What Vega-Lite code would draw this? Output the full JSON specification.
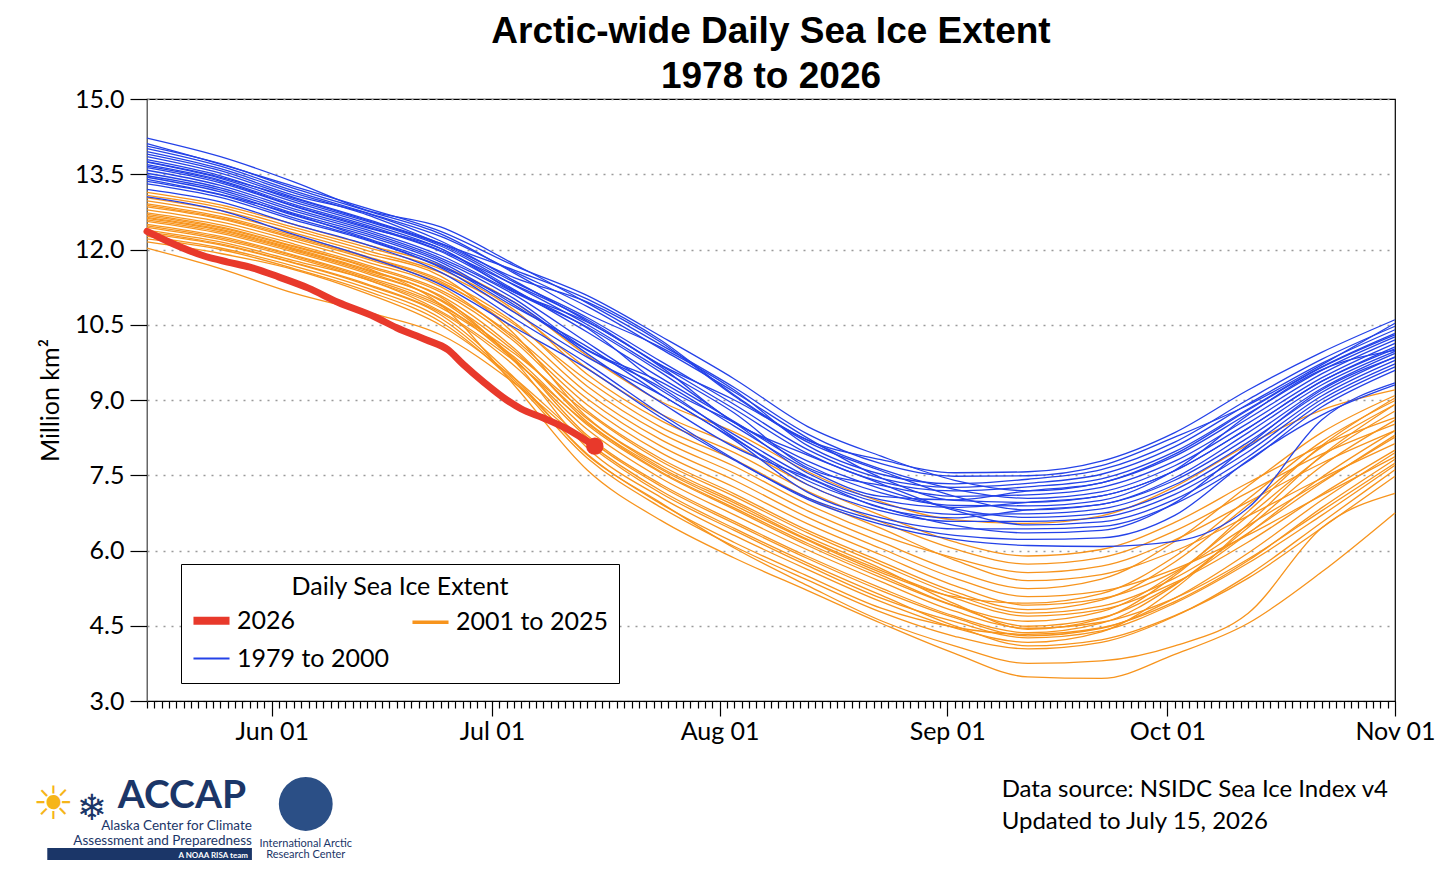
{
  "$schema": "https://vega.github.io/schema/vega-lite/v6.json",
  "width": 1248,
  "height": 602,
  "autosize": {"type": "none"},
  "padding": {"left": 147, "top": 99, "right": 61, "bottom": 173},
  "background": "white",
  "title": {
    "text": ["Arctic-wide Daily Sea Ice Extent", "1978 to 2026"],
    "font": "Liberation Sans",
    "fontSize": 37,
    "fontWeight": "bold",
    "lineHeight": 45,
    "anchor": "middle",
    "frame": "group",
    "offset": -9,
    "color": "black"
  },
  "datasets": {
    "yrs": [
      {"y": 1979, "grp": "1979 to 2000"}, {"y": 1980, "grp": "1979 to 2000"}, {"y": 1981, "grp": "1979 to 2000"},
      {"y": 1982, "grp": "1979 to 2000"}, {"y": 1983, "grp": "1979 to 2000"}, {"y": 1984, "grp": "1979 to 2000"},
      {"y": 1985, "grp": "1979 to 2000"}, {"y": 1986, "grp": "1979 to 2000"}, {"y": 1987, "grp": "1979 to 2000"},
      {"y": 1988, "grp": "1979 to 2000"}, {"y": 1989, "grp": "1979 to 2000"}, {"y": 1990, "grp": "1979 to 2000"},
      {"y": 1991, "grp": "1979 to 2000"}, {"y": 1992, "grp": "1979 to 2000"}, {"y": 1993, "grp": "1979 to 2000"},
      {"y": 1994, "grp": "1979 to 2000"}, {"y": 1995, "grp": "1979 to 2000"}, {"y": 1996, "grp": "1979 to 2000"},
      {"y": 1997, "grp": "1979 to 2000"}, {"y": 1998, "grp": "1979 to 2000"}, {"y": 1999, "grp": "1979 to 2000"},
      {"y": 2000, "grp": "1979 to 2000"},
      {"y": 2001, "grp": "2001 to 2025"}, {"y": 2002, "grp": "2001 to 2025"}, {"y": 2003, "grp": "2001 to 2025"},
      {"y": 2004, "grp": "2001 to 2025"}, {"y": 2005, "grp": "2001 to 2025"}, {"y": 2006, "grp": "2001 to 2025"},
      {"y": 2007, "grp": "2001 to 2025"}, {"y": 2008, "grp": "2001 to 2025"}, {"y": 2009, "grp": "2001 to 2025"},
      {"y": 2010, "grp": "2001 to 2025"}, {"y": 2011, "grp": "2001 to 2025"}, {"y": 2012, "grp": "2001 to 2025"},
      {"y": 2013, "grp": "2001 to 2025"}, {"y": 2014, "grp": "2001 to 2025"}, {"y": 2015, "grp": "2001 to 2025"},
      {"y": 2016, "grp": "2001 to 2025"}, {"y": 2017, "grp": "2001 to 2025"}, {"y": 2018, "grp": "2001 to 2025"},
      {"y": 2019, "grp": "2001 to 2025"}, {"y": 2020, "grp": "2001 to 2025"}, {"y": 2021, "grp": "2001 to 2025"},
      {"y": 2022, "grp": "2001 to 2025"}, {"y": 2023, "grp": "2001 to 2025"}, {"y": 2024, "grp": "2001 to 2025"},
      {"y": 2025, "grp": "2001 to 2025"},
      {"y": 2026, "grp": "2026"}
    ]
  },
  "data": {
    "format": {"parse": {"d": "utc:'%m-%d'"}},
    "values": [
      {"d":"05-15","y":1979,"v":14.22},{"d":"05-25","y":1979,"v":13.85},{"d":"06-04","y":1979,"v":13.35},{"d":"06-14","y":1979,"v":12.78},{"d":"06-24","y":1979,"v":12.45},{"d":"07-04","y":1979,"v":11.71},{"d":"07-14","y":1979,"v":10.93},{"d":"07-24","y":1979,"v":10.10},{"d":"08-03","y":1979,"v":9.25},{"d":"08-13","y":1979,"v":8.32},{"d":"08-23","y":1979,"v":7.73},{"d":"09-02","y":1979,"v":7.48},{"d":"09-12","y":1979,"v":7.49},{"d":"09-22","y":1979,"v":7.69},{"d":"10-02","y":1979,"v":8.26},{"d":"10-12","y":1979,"v":8.90},{"d":"10-22","y":1979,"v":9.70},{"d":"11-01","y":1979,"v":10.53},
      {"d":"05-15","y":1980,"v":14.11},{"d":"05-25","y":1980,"v":13.70},{"d":"06-04","y":1980,"v":13.26},{"d":"06-14","y":1980,"v":12.82},{"d":"06-24","y":1980,"v":12.36},{"d":"07-04","y":1980,"v":11.68},{"d":"07-14","y":1980,"v":11.08},{"d":"07-24","y":1980,"v":10.27},{"d":"08-03","y":1980,"v":9.42},{"d":"08-13","y":1980,"v":8.47},{"d":"08-23","y":1980,"v":7.88},{"d":"09-02","y":1980,"v":7.40},{"d":"09-12","y":1980,"v":7.19},{"d":"09-22","y":1980,"v":7.35},{"d":"10-02","y":1980,"v":7.88},{"d":"10-12","y":1980,"v":8.73},{"d":"10-22","y":1980,"v":9.59},{"d":"11-01","y":1980,"v":10.26},
      {"d":"05-15","y":1981,"v":14.06},{"d":"05-25","y":1981,"v":13.71},{"d":"06-04","y":1981,"v":13.22},{"d":"06-14","y":1981,"v":12.77},{"d":"06-24","y":1981,"v":12.31},{"d":"07-04","y":1981,"v":11.53},{"d":"07-14","y":1981,"v":10.72},{"d":"07-24","y":1981,"v":10.05},{"d":"08-03","y":1981,"v":9.20},{"d":"08-13","y":1981,"v":8.09},{"d":"08-23","y":1981,"v":7.52},{"d":"09-02","y":1981,"v":7.33},{"d":"09-12","y":1981,"v":7.42},{"d":"09-22","y":1981,"v":7.61},{"d":"10-02","y":1981,"v":8.16},{"d":"10-12","y":1981,"v":9.01},{"d":"10-22","y":1981,"v":9.81},{"d":"11-01","y":1981,"v":10.47},
      {"d":"05-15","y":1982,"v":14.01},{"d":"05-25","y":1982,"v":13.66},{"d":"06-04","y":1982,"v":13.17},{"d":"06-14","y":1982,"v":12.73},{"d":"06-24","y":1982,"v":12.26},{"d":"07-04","y":1982,"v":11.56},{"d":"07-14","y":1982,"v":10.86},{"d":"07-24","y":1982,"v":10.02},{"d":"08-03","y":1982,"v":9.16},{"d":"08-13","y":1982,"v":8.24},{"d":"08-23","y":1982,"v":7.45},{"d":"09-02","y":1982,"v":7.00},{"d":"09-12","y":1982,"v":6.96},{"d":"09-22","y":1982,"v":7.09},{"d":"10-02","y":1982,"v":7.59},{"d":"10-12","y":1982,"v":8.44},{"d":"10-22","y":1982,"v":9.37},{"d":"11-01","y":1982,"v":10.06},
      {"d":"05-15","y":1983,"v":13.95},{"d":"05-25","y":1983,"v":13.61},{"d":"06-04","y":1983,"v":13.13},{"d":"06-14","y":1983,"v":12.69},{"d":"06-24","y":1983,"v":12.12},{"d":"07-04","y":1983,"v":11.59},{"d":"07-14","y":1983,"v":11.01},{"d":"07-24","y":1983,"v":10.19},{"d":"08-03","y":1983,"v":9.10},{"d":"08-13","y":1983,"v":8.20},{"d":"08-23","y":1983,"v":7.81},{"d":"09-02","y":1983,"v":7.55},{"d":"09-12","y":1983,"v":7.57},{"d":"09-22","y":1983,"v":7.78},{"d":"10-02","y":1983,"v":8.35},{"d":"10-12","y":1983,"v":9.20},{"d":"10-22","y":1983,"v":9.95},{"d":"11-01","y":1983,"v":10.60},
      {"d":"05-15","y":1984,"v":13.90},{"d":"05-25","y":1984,"v":13.57},{"d":"06-04","y":1984,"v":13.08},{"d":"06-14","y":1984,"v":12.72},{"d":"06-24","y":1984,"v":12.17},{"d":"07-04","y":1984,"v":11.38},{"d":"07-14","y":1984,"v":10.57},{"d":"07-24","y":1984,"v":9.69},{"d":"08-03","y":1984,"v":8.82},{"d":"08-13","y":1984,"v":7.93},{"d":"08-23","y":1984,"v":7.37},{"d":"09-02","y":1984,"v":7.19},{"d":"09-12","y":1984,"v":7.27},{"d":"09-22","y":1984,"v":7.43},{"d":"10-02","y":1984,"v":7.97},{"d":"10-12","y":1984,"v":8.82},{"d":"10-22","y":1984,"v":9.66},{"d":"11-01","y":1984,"v":10.33},
      {"d":"05-15","y":1985,"v":13.85},{"d":"05-25","y":1985,"v":13.52},{"d":"06-04","y":1985,"v":13.04},{"d":"06-14","y":1985,"v":12.60},{"d":"06-24","y":1985,"v":12.12},{"d":"07-04","y":1985,"v":11.44},{"d":"07-14","y":1985,"v":10.95},{"d":"07-24","y":1985,"v":10.15},{"d":"08-03","y":1985,"v":9.08},{"d":"08-13","y":1985,"v":8.16},{"d":"08-23","y":1985,"v":7.59},{"d":"09-02","y":1985,"v":7.08},{"d":"09-12","y":1985,"v":6.81},{"d":"09-22","y":1985,"v":6.92},{"d":"10-02","y":1985,"v":7.40},{"d":"10-12","y":1985,"v":8.25},{"d":"10-22","y":1985,"v":9.23},{"d":"11-01","y":1985,"v":9.93},
      {"d":"05-15","y":1986,"v":13.79},{"d":"05-25","y":1986,"v":13.47},{"d":"06-04","y":1986,"v":12.99},{"d":"06-14","y":1986,"v":12.56},{"d":"06-24","y":1986,"v":12.07},{"d":"07-04","y":1986,"v":11.29},{"d":"07-14","y":1986,"v":10.50},{"d":"07-24","y":1986,"v":9.61},{"d":"08-03","y":1986,"v":8.74},{"d":"08-13","y":1986,"v":7.65},{"d":"08-23","y":1986,"v":7.30},{"d":"09-02","y":1986,"v":7.08},{"d":"09-12","y":1986,"v":7.11},{"d":"09-22","y":1986,"v":7.26},{"d":"10-02","y":1986,"v":7.78},{"d":"10-12","y":1986,"v":8.63},{"d":"10-22","y":1986,"v":9.52},{"d":"11-01","y":1986,"v":10.20},
      {"d":"05-15","y":1987,"v":13.75},{"d":"05-25","y":1987,"v":13.44},{"d":"06-04","y":1987,"v":13.02},{"d":"06-14","y":1987,"v":12.58},{"d":"06-24","y":1987,"v":12.10},{"d":"07-04","y":1987,"v":11.35},{"d":"07-14","y":1987,"v":10.64},{"d":"07-24","y":1987,"v":9.77},{"d":"08-03","y":1987,"v":8.91},{"d":"08-13","y":1987,"v":8.01},{"d":"08-23","y":1987,"v":7.44},{"d":"09-02","y":1987,"v":7.26},{"d":"09-12","y":1987,"v":7.34},{"d":"09-22","y":1987,"v":7.52},{"d":"10-02","y":1987,"v":8.07},{"d":"10-12","y":1987,"v":8.92},{"d":"10-22","y":1987,"v":9.73},{"d":"11-01","y":1987,"v":10.40},
      {"d":"05-15","y":1988,"v":13.74},{"d":"05-25","y":1988,"v":13.42},{"d":"06-04","y":1988,"v":12.95},{"d":"06-14","y":1988,"v":12.52},{"d":"06-24","y":1988,"v":12.02},{"d":"07-04","y":1988,"v":11.20},{"d":"07-14","y":1988,"v":10.35},{"d":"07-24","y":1988,"v":9.44},{"d":"08-03","y":1988,"v":8.57},{"d":"08-13","y":1988,"v":7.70},{"d":"08-23","y":1988,"v":7.15},{"d":"09-02","y":1988,"v":6.90},{"d":"09-12","y":1988,"v":6.89},{"d":"09-22","y":1988,"v":7.00},{"d":"10-02","y":1988,"v":7.60},{"d":"10-12","y":1988,"v":8.70},{"d":"10-22","y":1988,"v":9.60},{"d":"11-01","y":1988,"v":9.99},
      {"d":"05-15","y":1989,"v":13.69},{"d":"05-25","y":1989,"v":13.38},{"d":"06-04","y":1989,"v":12.90},{"d":"06-14","y":1989,"v":12.48},{"d":"06-24","y":1989,"v":11.98},{"d":"07-04","y":1989,"v":11.30},{"d":"07-14","y":1989,"v":10.60},{"d":"07-24","y":1989,"v":9.70},{"d":"08-03","y":1989,"v":9.00},{"d":"08-13","y":1989,"v":8.20},{"d":"08-23","y":1989,"v":7.62},{"d":"09-02","y":1989,"v":7.22},{"d":"09-12","y":1989,"v":7.04},{"d":"09-22","y":1989,"v":7.17},{"d":"10-02","y":1989,"v":7.69},{"d":"10-12","y":1989,"v":8.54},{"d":"10-22","y":1989,"v":9.44},{"d":"11-01","y":1989,"v":10.13},
      {"d":"05-15","y":1990,"v":13.66},{"d":"05-25","y":1990,"v":13.36},{"d":"06-04","y":1990,"v":12.87},{"d":"06-14","y":1990,"v":12.45},{"d":"06-24","y":1990,"v":11.96},{"d":"07-04","y":1990,"v":11.18},{"d":"07-14","y":1990,"v":10.43},{"d":"07-24","y":1990,"v":9.30},{"d":"08-03","y":1990,"v":8.55},{"d":"08-13","y":1990,"v":7.78},{"d":"08-23","y":1990,"v":7.23},{"d":"09-02","y":1990,"v":6.83},{"d":"09-12","y":1990,"v":6.66},{"d":"09-22","y":1990,"v":6.74},{"d":"10-02","y":1990,"v":7.21},{"d":"10-12","y":1990,"v":8.06},{"d":"10-22","y":1990,"v":9.08},{"d":"11-01","y":1990,"v":9.79},
      {"d":"05-15","y":1991,"v":13.63},{"d":"05-25","y":1991,"v":13.33},{"d":"06-04","y":1991,"v":12.86},{"d":"06-14","y":1991,"v":12.43},{"d":"06-24","y":1991,"v":12.02},{"d":"07-04","y":1991,"v":11.15},{"d":"07-14","y":1991,"v":10.45},{"d":"07-24","y":1991,"v":9.55},{"d":"08-03","y":1991,"v":8.55},{"d":"08-13","y":1991,"v":7.54},{"d":"08-23","y":1991,"v":7.01},{"d":"09-02","y":1991,"v":6.86},{"d":"09-12","y":1991,"v":6.96},{"d":"09-22","y":1991,"v":7.09},{"d":"10-02","y":1991,"v":7.59},{"d":"10-12","y":1991,"v":8.44},{"d":"10-22","y":1991,"v":9.37},{"d":"11-01","y":1991,"v":10.02},
      {"d":"05-15","y":1992,"v":13.58},{"d":"05-25","y":1992,"v":13.28},{"d":"06-04","y":1992,"v":12.81},{"d":"06-14","y":1992,"v":12.39},{"d":"06-24","y":1992,"v":11.88},{"d":"07-04","y":1992,"v":11.15},{"d":"07-14","y":1992,"v":10.55},{"d":"07-24","y":1992,"v":9.66},{"d":"08-03","y":1992,"v":8.55},{"d":"08-13","y":1992,"v":7.90},{"d":"08-23","y":1992,"v":7.33},{"d":"09-02","y":1992,"v":6.80},{"d":"09-12","y":1992,"v":6.51},{"d":"09-22","y":1992,"v":6.57},{"d":"10-02","y":1992,"v":7.02},{"d":"10-12","y":1992,"v":7.87},{"d":"10-22","y":1992,"v":8.94},{"d":"11-01","y":1992,"v":9.66},
      {"d":"05-15","y":1993,"v":13.52},{"d":"05-25","y":1993,"v":13.23},{"d":"06-04","y":1993,"v":12.77},{"d":"06-14","y":1993,"v":12.35},{"d":"06-24","y":1993,"v":11.83},{"d":"07-04","y":1993,"v":11.10},{"d":"07-14","y":1993,"v":10.14},{"d":"07-24","y":1993,"v":9.20},{"d":"08-03","y":1993,"v":8.31},{"d":"08-13","y":1993,"v":7.47},{"d":"08-23","y":1993,"v":6.94},{"d":"09-02","y":1993,"v":6.72},{"d":"09-12","y":1993,"v":6.73},{"d":"09-22","y":1993,"v":6.83},{"d":"10-02","y":1993,"v":7.31},{"d":"10-12","y":1993,"v":8.16},{"d":"10-22","y":1993,"v":9.15},{"d":"11-01","y":1993,"v":9.86},
      {"d":"05-15","y":1994,"v":13.47},{"d":"05-25","y":1994,"v":13.19},{"d":"06-04","y":1994,"v":12.72},{"d":"06-14","y":1994,"v":12.31},{"d":"06-24","y":1994,"v":11.79},{"d":"07-04","y":1994,"v":11.02},{"d":"07-14","y":1994,"v":10.00},{"d":"07-24","y":1994,"v":9.36},{"d":"08-03","y":1994,"v":8.48},{"d":"08-13","y":1994,"v":7.62},{"d":"08-23","y":1994,"v":7.08},{"d":"09-02","y":1994,"v":7.01},{"d":"09-12","y":1994,"v":7.19},{"d":"09-22","y":1994,"v":7.35},{"d":"10-02","y":1994,"v":7.92},{"d":"10-12","y":1994,"v":8.80},{"d":"10-22","y":1994,"v":9.65},{"d":"11-01","y":1994,"v":10.30},
      {"d":"05-15","y":1995,"v":13.44},{"d":"05-25","y":1995,"v":13.15},{"d":"06-04","y":1995,"v":12.68},{"d":"06-14","y":1995,"v":12.27},{"d":"06-24","y":1995,"v":11.75},{"d":"07-04","y":1995,"v":10.90},{"d":"07-14","y":1995,"v":9.99},{"d":"07-24","y":1995,"v":9.25},{"d":"08-03","y":1995,"v":8.25},{"d":"08-13","y":1995,"v":7.31},{"d":"08-23","y":1995,"v":6.79},{"d":"09-02","y":1995,"v":6.58},{"d":"09-12","y":1995,"v":6.58},{"d":"09-22","y":1995,"v":6.66},{"d":"10-02","y":1995,"v":7.12},{"d":"10-12","y":1995,"v":7.97},{"d":"10-22","y":1995,"v":9.01},{"d":"11-01","y":1995,"v":9.72},
      {"d":"05-15","y":1996,"v":13.40},{"d":"05-25","y":1996,"v":13.10},{"d":"06-04","y":1996,"v":12.70},{"d":"06-14","y":1996,"v":12.22},{"d":"06-24","y":1996,"v":11.70},{"d":"07-04","y":1996,"v":10.86},{"d":"07-14","y":1996,"v":10.06},{"d":"07-24","y":1996,"v":9.11},{"d":"08-03","y":1996,"v":8.23},{"d":"08-13","y":1996,"v":7.39},{"d":"08-23","y":1996,"v":6.86},{"d":"09-02","y":1996,"v":6.50},{"d":"09-12","y":1996,"v":6.35},{"d":"09-22","y":1996,"v":6.40},{"d":"10-02","y":1996,"v":6.95},{"d":"10-12","y":1996,"v":8.10},{"d":"10-22","y":1996,"v":9.20},{"d":"11-01","y":1996,"v":9.85},
      {"d":"05-15","y":1997,"v":13.36},{"d":"05-25","y":1997,"v":13.09},{"d":"06-04","y":1997,"v":12.63},{"d":"06-14","y":1997,"v":12.20},{"d":"06-24","y":1997,"v":11.66},{"d":"07-04","y":1997,"v":10.95},{"d":"07-14","y":1997,"v":9.92},{"d":"07-24","y":1997,"v":8.95},{"d":"08-03","y":1997,"v":8.06},{"d":"08-13","y":1997,"v":7.45},{"d":"08-23","y":1997,"v":6.85},{"d":"09-02","y":1997,"v":6.65},{"d":"09-12","y":1997,"v":6.81},{"d":"09-22","y":1997,"v":6.92},{"d":"10-02","y":1997,"v":7.45},{"d":"10-12","y":1997,"v":8.35},{"d":"10-22","y":1997,"v":9.30},{"d":"11-01","y":1997,"v":9.97},
      {"d":"05-15","y":1998,"v":13.31},{"d":"05-25","y":1998,"v":13.04},{"d":"06-04","y":1998,"v":12.59},{"d":"06-14","y":1998,"v":12.18},{"d":"06-24","y":1998,"v":11.64},{"d":"07-04","y":1998,"v":10.75},{"d":"07-14","y":1998,"v":9.85},{"d":"07-24","y":1998,"v":9.10},{"d":"08-03","y":1998,"v":8.20},{"d":"08-13","y":1998,"v":7.16},{"d":"08-23","y":1998,"v":6.65},{"d":"09-02","y":1998,"v":6.43},{"d":"09-12","y":1998,"v":6.43},{"d":"09-22","y":1998,"v":6.48},{"d":"10-02","y":1998,"v":6.93},{"d":"10-12","y":1998,"v":7.78},{"d":"10-22","y":1998,"v":8.86},{"d":"11-01","y":1998,"v":9.59},
      {"d":"05-15","y":1999,"v":13.20},{"d":"05-25","y":1999,"v":12.95},{"d":"06-04","y":1999,"v":12.50},{"d":"06-14","y":1999,"v":12.09},{"d":"06-24","y":1999,"v":11.55},{"d":"07-04","y":1999,"v":10.63},{"d":"07-14","y":1999,"v":9.72},{"d":"07-24","y":1999,"v":8.72},{"d":"08-03","y":1999,"v":7.82},{"d":"08-13","y":1999,"v":7.02},{"d":"08-23","y":1999,"v":6.52},{"d":"09-02","y":1999,"v":6.22},{"d":"09-12","y":1999,"v":6.10},{"d":"09-22","y":1999,"v":6.08},{"d":"10-02","y":1999,"v":6.18},{"d":"10-12","y":1999,"v":6.85},{"d":"10-22","y":1999,"v":8.60},{"d":"11-01","y":1999,"v":9.34},
      {"d":"05-15","y":2000,"v":13.05},{"d":"05-25","y":2000,"v":12.78},{"d":"06-04","y":2000,"v":12.30},{"d":"06-14","y":2000,"v":11.85},{"d":"06-24","y":2000,"v":11.30},{"d":"07-04","y":2000,"v":10.45},{"d":"07-14","y":2000,"v":9.62},{"d":"07-24","y":2000,"v":8.65},{"d":"08-03","y":2000,"v":7.80},{"d":"08-13","y":2000,"v":7.05},{"d":"08-23","y":2000,"v":6.58},{"d":"09-02","y":2000,"v":6.30},{"d":"09-12","y":2000,"v":6.22},{"d":"09-22","y":2000,"v":6.25},{"d":"10-02","y":2000,"v":6.70},{"d":"10-12","y":2000,"v":7.80},{"d":"10-22","y":2000,"v":8.70},{"d":"11-01","y":2000,"v":9.30},
      {"d":"05-15","y":2001,"v":13.14},{"d":"05-25","y":2001,"v":12.89},{"d":"06-04","y":2001,"v":12.50},{"d":"06-14","y":2001,"v":12.09},{"d":"06-24","y":2001,"v":11.68},{"d":"07-04","y":2001,"v":10.95},{"d":"07-14","y":2001,"v":9.88},{"d":"07-24","y":2001,"v":8.97},{"d":"08-03","y":2001,"v":8.36},{"d":"08-13","y":2001,"v":7.57},{"d":"08-23","y":2001,"v":6.97},{"d":"09-02","y":2001,"v":6.61},{"d":"09-12","y":2001,"v":6.54},{"d":"09-22","y":2001,"v":6.69},{"d":"10-02","y":2001,"v":7.27},{"d":"10-12","y":2001,"v":8.11},{"d":"10-22","y":2001,"v":8.80},{"d":"11-01","y":2001,"v":9.20},
      {"d":"05-15","y":2002,"v":12.85},{"d":"05-25","y":2002,"v":12.61},{"d":"06-04","y":2002,"v":12.22},{"d":"06-14","y":2002,"v":11.81},{"d":"06-24","y":2002,"v":11.33},{"d":"07-04","y":2002,"v":10.51},{"d":"07-14","y":2002,"v":9.39},{"d":"07-24","y":2002,"v":8.46},{"d":"08-03","y":2002,"v":7.81},{"d":"08-13","y":2002,"v":7.05},{"d":"08-23","y":2002,"v":6.44},{"d":"09-02","y":2002,"v":5.81},{"d":"09-12","y":2002,"v":5.40},{"d":"09-22","y":2002,"v":5.52},{"d":"10-02","y":2002,"v":5.99},{"d":"10-12","y":2002,"v":6.69},{"d":"10-22","y":2002,"v":7.44},{"d":"11-01","y":2002,"v":8.13},
      {"d":"05-15","y":2003,"v":13.03},{"d":"05-25","y":2003,"v":12.78},{"d":"06-04","y":2003,"v":12.39},{"d":"06-14","y":2003,"v":11.98},{"d":"06-24","y":2003,"v":11.54},{"d":"07-04","y":2003,"v":10.76},{"d":"07-14","y":2003,"v":9.63},{"d":"07-24","y":2003,"v":8.72},{"d":"08-03","y":2003,"v":8.09},{"d":"08-13","y":2003,"v":7.31},{"d":"08-23","y":2003,"v":6.70},{"d":"09-02","y":2003,"v":6.17},{"d":"09-12","y":2003,"v":5.89},{"d":"09-22","y":2003,"v":6.02},{"d":"10-02","y":2003,"v":6.56},{"d":"10-12","y":2003,"v":7.35},{"d":"10-22","y":2003,"v":8.09},{"d":"11-01","y":2003,"v":8.65},
      {"d":"05-15","y":2004,"v":13.08},{"d":"05-25","y":2004,"v":12.84},{"d":"06-04","y":2004,"v":12.44},{"d":"06-14","y":2004,"v":12.04},{"d":"06-24","y":2004,"v":11.61},{"d":"07-04","y":2004,"v":10.80},{"d":"07-14","y":2004,"v":9.51},{"d":"07-24","y":2004,"v":8.59},{"d":"08-03","y":2004,"v":7.95},{"d":"08-13","y":2004,"v":7.18},{"d":"08-23","y":2004,"v":6.57},{"d":"09-02","y":2004,"v":6.03},{"d":"09-12","y":2004,"v":5.73},{"d":"09-22","y":2004,"v":5.86},{"d":"10-02","y":2004,"v":6.39},{"d":"10-12","y":2004,"v":7.16},{"d":"10-22","y":2004,"v":7.92},{"d":"11-01","y":2004,"v":8.52},
      {"d":"05-15","y":2005,"v":12.73},{"d":"05-25","y":2005,"v":12.49},{"d":"06-04","y":2005,"v":12.11},{"d":"06-14","y":2005,"v":11.69},{"d":"06-24","y":2005,"v":11.19},{"d":"07-04","y":2005,"v":10.27},{"d":"07-14","y":2005,"v":9.02},{"d":"07-24","y":2005,"v":8.08},{"d":"08-03","y":2005,"v":7.40},{"d":"08-13","y":2005,"v":6.66},{"d":"08-23","y":2005,"v":6.04},{"d":"09-02","y":2005,"v":5.45},{"d":"09-12","y":2005,"v":5.08},{"d":"09-22","y":2005,"v":5.19},{"d":"10-02","y":2005,"v":5.63},{"d":"10-12","y":2005,"v":6.31},{"d":"10-22","y":2005,"v":7.10},{"d":"11-01","y":2005,"v":7.87},
      {"d":"05-15","y":2006,"v":12.91},{"d":"05-25","y":2006,"v":12.66},{"d":"06-04","y":2006,"v":12.28},{"d":"06-14","y":2006,"v":11.86},{"d":"06-24","y":2006,"v":11.40},{"d":"07-04","y":2006,"v":10.55},{"d":"07-14","y":2006,"v":9.27},{"d":"07-24","y":2006,"v":8.34},{"d":"08-03","y":2006,"v":7.68},{"d":"08-13","y":2006,"v":6.92},{"d":"08-23","y":2006,"v":6.31},{"d":"09-02","y":2006,"v":5.85},{"d":"09-12","y":2006,"v":5.56},{"d":"09-22","y":2006,"v":5.69},{"d":"10-02","y":2006,"v":6.21},{"d":"10-12","y":2006,"v":6.97},{"d":"10-22","y":2006,"v":7.74},{"d":"11-01","y":2006,"v":8.39},
      {"d":"05-15","y":2007,"v":12.62},{"d":"05-25","y":2007,"v":12.38},{"d":"06-04","y":2007,"v":12.00},{"d":"06-14","y":2007,"v":11.58},{"d":"06-24","y":2007,"v":11.05},{"d":"07-04","y":2007,"v":9.78},{"d":"07-14","y":2007,"v":8.04},{"d":"07-24","y":2007,"v":7.06},{"d":"08-03","y":2007,"v":6.30},{"d":"08-13","y":2007,"v":5.62},{"d":"08-23","y":2007,"v":4.98},{"d":"09-02","y":2007,"v":4.46},{"d":"09-12","y":2007,"v":4.17},{"d":"09-22","y":2007,"v":4.38},{"d":"10-02","y":2007,"v":5.24},{"d":"10-12","y":2007,"v":6.53},{"d":"10-22","y":2007,"v":7.89},{"d":"11-01","y":2007,"v":8.91},
      {"d":"05-15","y":2008,"v":12.97},{"d":"05-25","y":2008,"v":12.72},{"d":"06-04","y":2008,"v":12.33},{"d":"06-14","y":2008,"v":11.92},{"d":"06-24","y":2008,"v":11.47},{"d":"07-04","y":2008,"v":10.32},{"d":"07-14","y":2008,"v":8.65},{"d":"07-24","y":2008,"v":7.70},{"d":"08-03","y":2008,"v":6.99},{"d":"08-13","y":2008,"v":6.27},{"d":"08-23","y":2008,"v":5.64},{"d":"09-02","y":2008,"v":4.94},{"d":"09-12","y":2008,"v":4.43},{"d":"09-22","y":2008,"v":4.64},{"d":"10-02","y":2008,"v":5.50},{"d":"10-12","y":2008,"v":6.78},{"d":"10-22","y":2008,"v":8.09},{"d":"11-01","y":2008,"v":9.04},
      {"d":"05-15","y":2009,"v":12.79},{"d":"05-25","y":2009,"v":12.55},{"d":"06-04","y":2009,"v":12.17},{"d":"06-14","y":2009,"v":11.75},{"d":"06-24","y":2009,"v":11.26},{"d":"07-04","y":2009,"v":10.22},{"d":"07-14","y":2009,"v":8.90},{"d":"07-24","y":2009,"v":7.95},{"d":"08-03","y":2009,"v":7.26},{"d":"08-13","y":2009,"v":6.53},{"d":"08-23","y":2009,"v":5.91},{"d":"09-02","y":2009,"v":5.30},{"d":"09-12","y":2009,"v":4.91},{"d":"09-22","y":2009,"v":5.04},{"d":"10-02","y":2009,"v":5.58},{"d":"10-12","y":2009,"v":6.50},{"d":"10-22","y":2009,"v":7.38},{"d":"11-01","y":2009,"v":8.26},
      {"d":"05-15","y":2010,"v":12.38},{"d":"05-25","y":2010,"v":12.15},{"d":"06-04","y":2010,"v":11.78},{"d":"06-14","y":2010,"v":11.40},{"d":"06-24","y":2010,"v":10.77},{"d":"07-04","y":2010,"v":9.78},{"d":"07-14","y":2010,"v":8.53},{"d":"07-24","y":2010,"v":7.57},{"d":"08-03","y":2010,"v":6.85},{"d":"08-13","y":2010,"v":6.14},{"d":"08-23","y":2010,"v":5.51},{"d":"09-02","y":2010,"v":4.90},{"d":"09-12","y":2010,"v":4.59},{"d":"09-22","y":2010,"v":4.78},{"d":"10-02","y":2010,"v":5.54},{"d":"10-12","y":2010,"v":6.69},{"d":"10-22","y":2010,"v":7.87},{"d":"11-01","y":2010,"v":8.78},
      {"d":"05-15","y":2011,"v":12.56},{"d":"05-25","y":2011,"v":12.32},{"d":"06-04","y":2011,"v":11.95},{"d":"06-14","y":2011,"v":11.52},{"d":"06-24","y":2011,"v":10.98},{"d":"07-04","y":2011,"v":9.83},{"d":"07-14","y":2011,"v":8.29},{"d":"07-24","y":2011,"v":7.32},{"d":"08-03","y":2011,"v":6.58},{"d":"08-13","y":2011,"v":5.88},{"d":"08-23","y":2011,"v":5.25},{"d":"09-02","y":2011,"v":4.69},{"d":"09-12","y":2011,"v":4.36},{"d":"09-22","y":2011,"v":4.55},{"d":"10-02","y":2011,"v":5.31},{"d":"10-12","y":2011,"v":6.46},{"d":"10-22","y":2011,"v":7.68},{"d":"11-01","y":2011,"v":8.60},
      {"d":"05-15","y":2012,"v":12.67},{"d":"05-25","y":2012,"v":12.43},{"d":"06-04","y":2012,"v":12.05},{"d":"06-14","y":2012,"v":11.63},{"d":"06-24","y":2012,"v":10.90},{"d":"07-04","y":2012,"v":9.30},{"d":"07-14","y":2012,"v":7.60},{"d":"07-24","y":2012,"v":6.60},{"d":"08-03","y":2012,"v":5.85},{"d":"08-13","y":2012,"v":5.20},{"d":"08-23","y":2012,"v":4.55},{"d":"09-02","y":2012,"v":3.95},{"d":"09-12","y":2012,"v":3.48},{"d":"09-22","y":2012,"v":3.45},{"d":"10-02","y":2012,"v":3.93},{"d":"10-12","y":2012,"v":4.55},{"d":"10-22","y":2012,"v":5.57},{"d":"11-01","y":2012,"v":6.75},
      {"d":"05-15","y":2013,"v":12.88},{"d":"05-25","y":2013,"v":12.63},{"d":"06-04","y":2013,"v":12.25},{"d":"06-14","y":2013,"v":11.84},{"d":"06-24","y":2013,"v":11.36},{"d":"07-04","y":2013,"v":10.42},{"d":"07-14","y":2013,"v":9.14},{"d":"07-24","y":2013,"v":8.21},{"d":"08-03","y":2013,"v":7.54},{"d":"08-13","y":2013,"v":6.79},{"d":"08-23","y":2013,"v":6.17},{"d":"09-02","y":2013,"v":5.59},{"d":"09-12","y":2013,"v":5.24},{"d":"09-22","y":2013,"v":5.43},{"d":"10-02","y":2013,"v":6.18},{"d":"10-12","y":2013,"v":7.29},{"d":"10-22","y":2013,"v":8.35},{"d":"11-01","y":2013,"v":9.09},
      {"d":"05-15","y":2014,"v":12.70},{"d":"05-25","y":2014,"v":12.45},{"d":"06-04","y":2014,"v":12.07},{"d":"06-14","y":2014,"v":11.66},{"d":"06-24","y":2014,"v":11.15},{"d":"07-04","y":2014,"v":10.17},{"d":"07-14","y":2014,"v":8.78},{"d":"07-24","y":2014,"v":7.83},{"d":"08-03","y":2014,"v":7.13},{"d":"08-13","y":2014,"v":6.40},{"d":"08-23","y":2014,"v":5.78},{"d":"09-02","y":2014,"v":5.18},{"d":"09-12","y":2014,"v":4.82},{"d":"09-22","y":2014,"v":5.01},{"d":"10-02","y":2014,"v":5.77},{"d":"10-12","y":2014,"v":6.91},{"d":"10-22","y":2014,"v":8.06},{"d":"11-01","y":2014,"v":8.91},
      {"d":"05-15","y":2015,"v":12.50},{"d":"05-25","y":2015,"v":12.26},{"d":"06-04","y":2015,"v":11.89},{"d":"06-14","y":2015,"v":11.46},{"d":"06-24","y":2015,"v":10.91},{"d":"07-04","y":2015,"v":9.80},{"d":"07-14","y":2015,"v":8.41},{"d":"07-24","y":2015,"v":7.44},{"d":"08-03","y":2015,"v":6.71},{"d":"08-13","y":2015,"v":6.01},{"d":"08-23","y":2015,"v":5.38},{"d":"09-02","y":2015,"v":4.79},{"d":"09-12","y":2015,"v":4.45},{"d":"09-22","y":2015,"v":4.57},{"d":"10-02","y":2015,"v":5.05},{"d":"10-12","y":2015,"v":5.83},{"d":"10-22","y":2015,"v":6.79},{"d":"11-01","y":2015,"v":7.74},
      {"d":"05-15","y":2016,"v":12.15},{"d":"05-25","y":2016,"v":11.92},{"d":"06-04","y":2016,"v":11.60},{"d":"06-14","y":2016,"v":11.12},{"d":"06-24","y":2016,"v":10.49},{"d":"07-04","y":2016,"v":9.44},{"d":"07-14","y":2016,"v":8.16},{"d":"07-24","y":2016,"v":7.19},{"d":"08-03","y":2016,"v":6.44},{"d":"08-13","y":2016,"v":5.75},{"d":"08-23","y":2016,"v":5.11},{"d":"09-02","y":2016,"v":4.50},{"d":"09-12","y":2016,"v":4.10},{"d":"09-22","y":2016,"v":4.22},{"d":"10-02","y":2016,"v":4.70},{"d":"10-12","y":2016,"v":5.45},{"d":"10-22","y":2016,"v":6.45},{"d":"11-01","y":2016,"v":7.48},
      {"d":"05-15","y":2017,"v":12.59},{"d":"05-25","y":2017,"v":12.35},{"d":"06-04","y":2017,"v":11.98},{"d":"06-14","y":2017,"v":11.55},{"d":"06-24","y":2017,"v":11.00},{"d":"07-04","y":2017,"v":9.98},{"d":"07-14","y":2017,"v":8.62},{"d":"07-24","y":2017,"v":7.65},{"d":"08-03","y":2017,"v":6.95},{"d":"08-13","y":2017,"v":6.22},{"d":"08-23","y":2017,"v":5.60},{"d":"09-02","y":2017,"v":5.05},{"d":"09-12","y":2017,"v":4.69},{"d":"09-22","y":2017,"v":4.82},{"d":"10-02","y":2017,"v":5.36},{"d":"10-12","y":2017,"v":6.17},{"d":"10-22","y":2017,"v":7.12},{"d":"11-01","y":2017,"v":8.00},
      {"d":"05-15","y":2018,"v":12.44},{"d":"05-25","y":2018,"v":12.20},{"d":"06-04","y":2018,"v":11.84},{"d":"06-14","y":2018,"v":11.40},{"d":"06-24","y":2018,"v":10.84},{"d":"07-04","y":2018,"v":9.86},{"d":"07-14","y":2018,"v":8.50},{"d":"07-24","y":2018,"v":7.55},{"d":"08-03","y":2018,"v":6.82},{"d":"08-13","y":2018,"v":6.10},{"d":"08-23","y":2018,"v":5.46},{"d":"09-02","y":2018,"v":4.89},{"d":"09-12","y":2018,"v":4.49},{"d":"09-22","y":2018,"v":4.66},{"d":"10-02","y":2018,"v":5.33},{"d":"10-12","y":2018,"v":6.34},{"d":"10-22","y":2018,"v":7.46},{"d":"11-01","y":2018,"v":8.39},
      {"d":"05-15","y":2019,"v":12.21},{"d":"05-25","y":2019,"v":12.00},{"d":"06-04","y":2019,"v":11.62},{"d":"06-14","y":2019,"v":11.17},{"d":"06-24","y":2019,"v":10.56},{"d":"07-04","y":2019,"v":9.36},{"d":"07-14","y":2019,"v":7.84},{"d":"07-24","y":2019,"v":6.86},{"d":"08-03","y":2019,"v":6.08},{"d":"08-13","y":2019,"v":5.41},{"d":"08-23","y":2019,"v":4.77},{"d":"09-02","y":2019,"v":4.29},{"d":"09-12","y":2019,"v":4.04},{"d":"09-22","y":2019,"v":4.17},{"d":"10-02","y":2019,"v":4.69},{"d":"10-12","y":2019,"v":5.51},{"d":"10-22","y":2019,"v":6.56},{"d":"11-01","y":2019,"v":7.61},
      {"d":"05-15","y":2020,"v":12.32},{"d":"05-25","y":2020,"v":12.09},{"d":"06-04","y":2020,"v":11.73},{"d":"06-14","y":2020,"v":11.29},{"d":"06-24","y":2020,"v":10.70},{"d":"07-04","y":2020,"v":9.45},{"d":"07-14","y":2020,"v":7.90},{"d":"07-24","y":2020,"v":6.95},{"d":"08-03","y":2020,"v":6.05},{"d":"08-13","y":2020,"v":5.30},{"d":"08-23","y":2020,"v":4.60},{"d":"09-02","y":2020,"v":4.10},{"d":"09-12","y":2020,"v":3.75},{"d":"09-22","y":2020,"v":3.80},{"d":"10-02","y":2020,"v":4.10},{"d":"10-12","y":2020,"v":4.75},{"d":"10-22","y":2020,"v":6.45},{"d":"11-01","y":2020,"v":7.14},
      {"d":"05-15","y":2021,"v":12.64},{"d":"05-25","y":2021,"v":12.40},{"d":"06-04","y":2021,"v":12.02},{"d":"06-14","y":2021,"v":11.60},{"d":"06-24","y":2021,"v":11.08},{"d":"07-04","y":2021,"v":10.03},{"d":"07-14","y":2021,"v":8.56},{"d":"07-24","y":2021,"v":7.62},{"d":"08-03","y":2021,"v":6.90},{"d":"08-13","y":2021,"v":6.20},{"d":"08-23","y":2021,"v":5.56},{"d":"09-02","y":2021,"v":5.08},{"d":"09-12","y":2021,"v":4.95},{"d":"09-22","y":2021,"v":5.14},{"d":"10-02","y":2021,"v":5.88},{"d":"10-12","y":2021,"v":7.03},{"d":"10-22","y":2021,"v":8.17},{"d":"11-01","y":2021,"v":8.99},
      {"d":"05-15","y":2022,"v":12.47},{"d":"05-25","y":2022,"v":12.23},{"d":"06-04","y":2022,"v":11.87},{"d":"06-14","y":2022,"v":11.43},{"d":"06-24","y":2022,"v":10.88},{"d":"07-04","y":2022,"v":9.93},{"d":"07-14","y":2022,"v":8.74},{"d":"07-24","y":2022,"v":7.78},{"d":"08-03","y":2022,"v":7.08},{"d":"08-13","y":2022,"v":6.35},{"d":"08-23","y":2022,"v":5.72},{"d":"09-02","y":2022,"v":5.12},{"d":"09-12","y":2022,"v":4.75},{"d":"09-22","y":2022,"v":4.89},{"d":"10-02","y":2022,"v":5.45},{"d":"10-12","y":2022,"v":6.35},{"d":"10-22","y":2022,"v":7.35},{"d":"11-01","y":2022,"v":8.30},
      {"d":"05-15","y":2023,"v":12.35},{"d":"05-25","y":2023,"v":12.11},{"d":"06-04","y":2023,"v":11.74},{"d":"06-14","y":2023,"v":11.31},{"d":"06-24","y":2023,"v":10.74},{"d":"07-04","y":2023,"v":9.69},{"d":"07-14","y":2023,"v":8.25},{"d":"07-24","y":2023,"v":7.28},{"d":"08-03","y":2023,"v":6.54},{"d":"08-13","y":2023,"v":5.84},{"d":"08-23","y":2023,"v":5.20},{"d":"09-02","y":2023,"v":4.66},{"d":"09-12","y":2023,"v":4.30},{"d":"09-22","y":2023,"v":4.45},{"d":"10-02","y":2023,"v":5.05},{"d":"10-12","y":2023,"v":5.95},{"d":"10-22","y":2023,"v":7.00},{"d":"11-01","y":2023,"v":7.95},
      {"d":"05-15","y":2024,"v":12.26},{"d":"05-25","y":2024,"v":12.03},{"d":"06-04","y":2024,"v":11.67},{"d":"06-14","y":2024,"v":11.23},{"d":"06-24","y":2024,"v":10.63},{"d":"07-04","y":2024,"v":9.40},{"d":"07-14","y":2024,"v":7.92},{"d":"07-24","y":2024,"v":6.93},{"d":"08-03","y":2024,"v":6.16},{"d":"08-13","y":2024,"v":5.49},{"d":"08-23","y":2024,"v":4.85},{"d":"09-02","y":2024,"v":4.47},{"d":"09-12","y":2024,"v":4.33},{"d":"09-22","y":2024,"v":4.46},{"d":"10-02","y":2024,"v":4.98},{"d":"10-12","y":2024,"v":5.80},{"d":"10-22","y":2024,"v":6.85},{"d":"11-01","y":2024,"v":7.82},
      {"d":"05-15","y":2025,"v":12.03},{"d":"05-25","y":2025,"v":11.62},{"d":"06-04","y":2025,"v":11.13},{"d":"06-14","y":2025,"v":10.75},{"d":"06-24","y":2025,"v":10.30},{"d":"07-04","y":2025,"v":9.34},{"d":"07-14","y":2025,"v":8.12},{"d":"07-24","y":2025,"v":7.14},{"d":"08-03","y":2025,"v":6.40},{"d":"08-13","y":2025,"v":5.70},{"d":"08-23","y":2025,"v":5.05},{"d":"09-02","y":2025,"v":4.58},{"d":"09-12","y":2025,"v":4.26},{"d":"09-22","y":2025,"v":4.40},{"d":"10-02","y":2025,"v":4.95},{"d":"10-12","y":2025,"v":5.75},{"d":"10-22","y":2025,"v":6.70},{"d":"11-01","y":2025,"v":7.70},
      {"d":"05-15","y":2026,"v":12.36},{"d":"05-18","y":2026,"v":12.15},{"d":"05-23","y":2026,"v":11.86},{"d":"05-26","y":2026,"v":11.75},{"d":"05-29","y":2026,"v":11.65},{"d":"06-02","y":2026,"v":11.45},{"d":"06-06","y":2026,"v":11.23},{"d":"06-10","y":2026,"v":10.95},{"d":"06-15","y":2026,"v":10.66},{"d":"06-18","y":2026,"v":10.44},{"d":"06-22","y":2026,"v":10.20},{"d":"06-25","y":2026,"v":10.00},{"d":"06-27","y":2026,"v":9.72},{"d":"06-30","y":2026,"v":9.34},{"d":"07-03","y":2026,"v":9.00},{"d":"07-05","y":2026,"v":8.82},{"d":"07-08","y":2026,"v":8.64},{"d":"07-11","y":2026,"v":8.44},{"d":"07-15","y":2026,"v":8.08}
    ]
  },
  "transform": [
    {"lookup": "y", "from": {"data": {"name": "yrs"}, "key": "y", "fields": ["grp"]}}
  ],
  "layer": [
    {
      "transform": [{"filter": {"field": "grp", "equal": "2001 to 2025"}}],
      "mark": {"type": "line", "strokeWidth": 1.3, "interpolate": "monotone"},
      "encoding": {
        "x": {
          "field": "d",
          "type": "temporal",
          "scale": {"type": "utc", "domain": [{"year": 1900, "month": 5, "date": 15, "utc": true}, {"year": 1900, "month": 11, "date": 1, "utc": true}]},
          "axis": {
            "title": null,
            "tickCount": {"interval": "day", "step": 1},
            "labelExpr": "utcdate(datum.value) == 1 ? utcFormat(datum.value, '%b %d') : ''",
            "labelOverlap": false,
            "labelFlush": false,
            "tickSize": {"condition": {"test": "utcdate(datum.value) == 1", "value": 15}, "value": 7},
            "labelPadding": 3,
            "grid": false
          }
        },
        "y": {
          "field": "v",
          "type": "quantitative",
          "scale": {"domain": [3, 15], "zero": false, "nice": false},
          "axis": {
            "title": "Million km²",
            "values": [3, 4.5, 6, 7.5, 9, 10.5, 12, 13.5, 15],
            "format": ".1f",
            "labelFlush": false,
            "tickSize": 17,
            "labelPadding": 6,
            "titlePadding": 11,
            "domainColor": "#666666",
            "grid": true,
            "gridDash": [2, 6],
            "gridColor": "#9a9a9a",
            "gridWidth": 1.5
          }
        },
        "detail": {"field": "y", "type": "nominal"},
        "color": {
          "field": "grp",
          "type": "nominal",
          "scale": {"domain": ["2026", "2001 to 2025", "1979 to 2000"], "range": ["#e8392b", "#f7941d", "#2442e8"]},
          "legend": {
            "orient": "none",
            "legendX": 34,
            "legendY": 465,
            "columns": 2,
            "values": ["2026", "1979 to 2000", "2001 to 2025"],
            "title": "Daily Sea Ice Extent",
            "titleLimit": 600,
            "titleAnchor": "middle",
            "titleFont": "Lato",
            "titleFontSize": 25,
            "titleFontWeight": "normal",
            "titleColor": "black",
            "titlePadding": 8,
            "labelFont": "Lato",
            "labelFontSize": 25,
            "labelColor": "black",
            "labelLimit": 400,
            "labelOffset": 13,
            "symbolOffset": 7,
            "symbolType": "stroke",
            "symbolSize": 1300,
            "strokeColor": "black",
            "fillColor": "white",
            "padding": 11,
            "columnPadding": 16,
            "rowPadding": 9,
            "encode": {"symbols": {"update": {"strokeWidth": {"signal": "datum.value === '2026' ? 8 : datum.value === '2001 to 2025' ? 3.5 : 2"}}}}
          }
        }
      }
    },
    {
      "transform": [{"filter": {"field": "grp", "equal": "1979 to 2000"}}],
      "mark": {"type": "line", "strokeWidth": 1.3, "interpolate": "monotone"},
      "encoding": {
        "x": {"field": "d", "type": "temporal"},
        "y": {"field": "v", "type": "quantitative"},
        "detail": {"field": "y", "type": "nominal"},
        "color": {"field": "grp", "type": "nominal", "scale": {"domain": ["2026", "2001 to 2025", "1979 to 2000"], "range": ["#e8392b", "#f7941d", "#2442e8"]}}
      }
    },
    {
      "transform": [{"filter": {"field": "grp", "equal": "2026"}}],
      "mark": {"type": "line", "strokeWidth": 7, "interpolate": "monotone", "strokeCap": "round"},
      "encoding": {
        "x": {"field": "d", "type": "temporal"},
        "y": {"field": "v", "type": "quantitative"},
        "color": {"field": "grp", "type": "nominal", "scale": {"domain": ["2026", "2001 to 2025", "1979 to 2000"], "range": ["#e8392b", "#f7941d", "#2442e8"]}}
      }
    },
    {
      "data": {"values": [{"d": "07-15", "v": 8.08}], "format": {"parse": {"d": "utc:'%m-%d'"}}},
      "mark": {"type": "point", "filled": true, "size": 300, "opacity": 1, "color": "#e8392b"},
      "encoding": {
        "x": {"field": "d", "type": "temporal"},
        "y": {"field": "v", "type": "quantitative"}
      }
    },
    {
      "data": {"values": [{}]},
      "mark": {"type": "text", "text": ["Data source: NSIDC Sea Ice Index v4", "Updated to July 15, 2026"], "align": "left", "baseline": "alphabetic", "font": "Lato", "fontSize": 24, "lineHeight": 32, "color": "black"},
      "encoding": {
        "x": {"datum": {"year": 1900, "month": 9, "date": 8, "hours": 10, "utc": true}, "type": "temporal"},
        "y": {"datum": 1.087, "type": "quantitative"}
      }
    },
    {
      "data": {"values": [{}]},
      "mark": {"type": "rect", "color": "#1b3668"},
      "encoding": {
        "x": {"datum": {"year": 1900, "month": 5, "date": 1, "hours": 10, "utc": true}, "type": "temporal"},
        "x2": {"datum": {"year": 1900, "month": 5, "date": 29, "hours": 7, "utc": true}},
        "y": {"datum": 0.07, "type": "quantitative"},
        "y2": {"datum": -0.169}
      }
    },
    {
      "data": {"values": [{}]},
      "mark": {"type": "text", "text": "A NOAA RISA team", "align": "right", "baseline": "alphabetic", "font": "Lato", "fontSize": 8, "fontWeight": "bold", "color": "white"},
      "encoding": {
        "x": {"datum": {"year": 1900, "month": 5, "date": 28, "hours": 18, "utc": true}, "type": "temporal"},
        "y": {"datum": -0.129, "type": "quantitative"}
      }
    },
    {
      "data": {"values": [{}]},
      "mark": {"type": "text", "text": "ACCAP", "align": "right", "baseline": "alphabetic", "font": "Lato", "fontSize": 39, "fontWeight": "bold", "color": "#1b3668"},
      "encoding": {
        "x": {"datum": {"year": 1900, "month": 5, "date": 28, "hours": 12, "utc": true}, "type": "temporal"},
        "y": {"datum": 0.86, "type": "quantitative"}
      }
    },
    {
      "data": {"values": [{}]},
      "mark": {"type": "text", "text": ["Alaska Center for Climate", "Assessment and Preparedness"], "align": "right", "baseline": "alphabetic", "font": "Lato", "fontSize": 13.5, "lineHeight": 15, "color": "#1b3668"},
      "encoding": {
        "x": {"datum": {"year": 1900, "month": 5, "date": 29, "hours": 7, "utc": true}, "type": "temporal"},
        "y": {"datum": 0.43, "type": "quantitative"}
      }
    },
    {
      "data": {"values": [{}]},
      "mark": {"type": "text", "text": "☀", "align": "center", "baseline": "middle", "font": "DejaVu Sans", "fontSize": 46, "color": "#f6b519"},
      "encoding": {
        "x": {"datum": {"year": 1900, "month": 5, "date": 2, "hours": 6, "utc": true}, "type": "temporal"},
        "y": {"datum": 0.93, "type": "quantitative"}
      }
    },
    {
      "data": {"values": [{}]},
      "mark": {"type": "text", "text": "❄", "align": "center", "baseline": "middle", "font": "DejaVu Sans", "fontSize": 36, "color": "#1b3668"},
      "encoding": {
        "x": {"datum": {"year": 1900, "month": 5, "date": 7, "hours": 12, "utc": true}, "type": "temporal"},
        "y": {"datum": 0.85, "type": "quantitative"}
      }
    },
    {
      "data": {"values": [{}]},
      "mark": {"type": "point", "filled": true, "size": 2900, "opacity": 1, "color": "#2b4f86"},
      "encoding": {
        "x": {"datum": {"year": 1900, "month": 6, "date": 5, "hours": 15, "utc": true}, "type": "temporal"},
        "y": {"datum": 0.947, "type": "quantitative"}
      }
    },
    {
      "data": {"values": [{}]},
      "mark": {"type": "text", "text": ["International Arctic", "Research Center"], "align": "center", "baseline": "alphabetic", "font": "Lato", "fontSize": 11, "lineHeight": 11, "color": "#1b3668"},
      "encoding": {
        "x": {"datum": {"year": 1900, "month": 6, "date": 5, "hours": 15, "utc": true}, "type": "temporal"},
        "y": {"datum": 0.09, "type": "quantitative"}
      }
    }
  ],
  "config": {
    "font": "Lato",
    "view": {"stroke": "black", "strokeWidth": 1.2},
    "axis": {
      "labelFont": "Lato",
      "labelFontSize": 25,
      "labelColor": "black",
      "titleFont": "Lato",
      "titleFontSize": 25,
      "titleFontWeight": "normal",
      "titleColor": "black",
      "tickColor": "black",
      "tickWidth": 1.2,
      "domainColor": "black"
    }
  }
}
